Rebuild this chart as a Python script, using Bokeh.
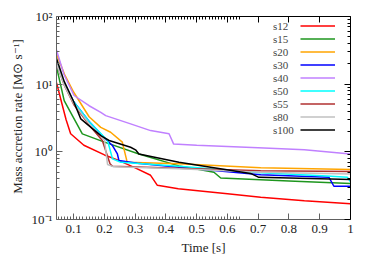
from bokeh.plotting import figure
from bokeh.models import (FixedTicker, LinearAxis, LogAxis, Legend, LegendItem, Range1d,
                          CustomJSTickFormatter)
from bokeh.embed import file_html
from bokeh.resources import INLINE

# ---- data (time [s], mass accretion rate [Msun/s]) ----
s12_t = [0.044, 0.06, 0.075, 0.09, 0.133, 0.2, 0.242, 0.3, 0.35, 0.372, 0.44, 0.6, 0.708, 0.85, 1.0]
s12_m = [10.5, 5.5, 3.0, 1.85, 1.25, 0.9, 0.76, 0.58, 0.45, 0.32, 0.285, 0.24, 0.214, 0.19, 0.171]

s15_t = [0.044, 0.069, 0.096, 0.128, 0.2, 0.312, 0.442, 0.556, 0.578, 0.8, 1.0]
s15_m = [18.0, 5.7, 3.4, 1.84, 1.39, 0.93, 0.62, 0.5, 0.41, 0.37, 0.34]

s20_t = [0.044, 0.07, 0.1, 0.15, 0.188, 0.22, 0.258, 0.274, 0.442, 0.708, 1.0]
s20_m = [28.0, 14.0, 7.6, 3.3, 2.3, 1.95, 1.39, 0.70, 0.665, 0.58, 0.55]

s30_t = [0.044, 0.07, 0.1, 0.15, 0.2, 0.226, 0.242, 0.247, 0.307, 0.442, 0.708, 0.93, 0.946, 1.0]
s30_m = [20.0, 10.0, 5.5, 2.8, 1.6, 1.24, 0.93, 0.745, 0.68, 0.59, 0.46, 0.42, 0.31, 0.31]

s40_t = [0.044, 0.068, 0.101, 0.15, 0.188, 0.204, 0.285, 0.35, 0.41, 0.425, 0.5, 0.7, 0.85, 1.0]
s40_m = [32.0, 14.0, 6.8, 4.8, 3.84, 3.43, 2.59, 2.06, 1.85, 1.3, 1.25, 1.15, 1.07, 0.93]

s50_t = [0.044, 0.07, 0.1, 0.15, 0.21, 0.226, 0.253, 0.442, 0.708, 0.924, 0.99, 1.0]
s50_m = [21.0, 10.0, 5.5, 2.8, 1.47, 0.79, 0.70, 0.61, 0.49, 0.44, 0.42, 0.36]

s55_t = [0.044, 0.07, 0.1, 0.15, 0.193, 0.218, 0.226, 0.442, 0.708, 1.0]
s55_m = [20.0, 9.5, 5.0, 2.5, 1.47, 0.665, 0.61, 0.57, 0.525, 0.51]

s80_t = [0.044, 0.07, 0.1, 0.15, 0.2, 0.21, 0.23, 0.442, 0.708, 1.0]
s80_m = [20.0, 9.5, 5.2, 2.6, 1.5, 0.65, 0.6, 0.56, 0.5, 0.47]

s100_t = [0.044, 0.069, 0.1, 0.123, 0.188, 0.215, 0.285, 0.301, 0.312, 0.442, 0.675, 0.702, 1.0]
s100_m = [24.0, 11.0, 5.5, 3.07, 1.74, 1.47, 1.17, 1.07, 0.93, 0.70, 0.48, 0.42, 0.39]

names = ["s12", "s15", "s20", "s30", "s40", "s50", "s55", "s80", "s100"]
series = [(s12_t, s12_m), (s15_t, s15_m), (s20_t, s20_m), (s30_t, s30_m), (s40_t, s40_m),
          (s50_t, s50_m), (s55_t, s55_m), (s80_t, s80_m), (s100_t, s100_m)]
colors = ["#ff0000", "#1e961e", "#ffa500", "#0000ff", "#c080ff",
          "#00ffff", "#b03030", "#c0c0c0", "#000000"]

x_ticks = [0.1, 0.2, 0.3, 0.4, 0.5, 0.6, 0.7, 0.8, 0.9, 1.0]
x_minor = [round(0.04 + 0.01 * i, 2) for i in range(61)]
y_ticks = [0.1, 1, 10, 100]
y_minor = [m * d for d in (0.1, 1, 10) for m in range(2, 10)]
y_labels = {0.1: "10\u207b\u00b9", 1: "10\u2070", 10: "10\u00b9", 100: "10\u00b2"}

FONT = "Liberation Serif"

p = figure(width=374, height=262, output_backend="svg", toolbar_location=None,
           y_axis_type="log", x_range=Range1d(0.044, 1.0), y_range=Range1d(0.1, 100),
           min_border_left=56, min_border_right=24, min_border_top=16, min_border_bottom=43)
p.outline_line_color = None
p.xgrid.visible = False
p.ygrid.visible = False
p.background_fill_color = "white"
p.border_fill_color = "white"

line_items = []
text_items = []
for name, (t, m), c in zip(names, series, colors):
    r = p.line(t, m, line_color=c, line_width=1.5)
    line_items.append(LegendItem(label=" ", renderers=[r]))
    dummy = p.line(x=[], y=[], line_alpha=0)
    text_items.append(LegendItem(label=name, renderers=[dummy]))

def style(ax, col="#606060"):
    ax.axis_line_color = col
    ax.major_tick_line_color = col
    ax.minor_tick_line_color = col
    ax.major_tick_in = 6
    ax.major_tick_out = 0
    ax.minor_tick_in = 3
    ax.minor_tick_out = 0
    ax.major_label_text_font = FONT
    ax.major_label_text_font_size = "13px"
    ax.major_label_text_color = "#222222"
    ax.axis_label_text_font = FONT
    ax.axis_label_text_font_size = "13px"
    ax.axis_label_text_font_style = "normal"
    ax.axis_label_text_color = "#222222"

xax = p.xaxis[0]
xax.ticker = FixedTicker(ticks=x_ticks, minor_ticks=x_minor)
xax.major_label_overrides = {1: "1"}
xax.axis_label = "Time [s]"
xax.axis_label_standoff = 4
style(xax)

yax = p.yaxis[0]
yax.ticker = FixedTicker(ticks=y_ticks, minor_ticks=y_minor)
yax.major_label_overrides = y_labels
yax.axis_label = "Mass accretion rate [M\u2299 s\u207b\u00b9]"
yax.axis_label_standoff = 4
yax.major_label_standoff = 4
style(yax)

blank = CustomJSTickFormatter(code="return ''")

top = LinearAxis(ticker=FixedTicker(ticks=x_ticks, minor_ticks=x_minor), formatter=blank)
style(top, col="black")
top.major_label_standoff = 0
p.add_layout(top, "above")

right = LogAxis(ticker=FixedTicker(ticks=y_ticks, minor_ticks=y_minor), formatter=blank)
style(right, col="black")
right.major_label_standoff = 0
p.add_layout(right, "right")

def make_legend(items, loc, glyph_w):
    lg = Legend(items=items, location=loc)
    lg.background_fill_alpha = 0
    lg.border_line_color = None
    lg.label_text_font = FONT
    lg.label_text_font_size = "11px"
    lg.glyph_width = glyph_w
    lg.glyph_height = 13
    lg.label_height = 13
    lg.label_standoff = 0
    lg.spacing = 0
    lg.padding = 0
    lg.margin = 0
    return lg

p.add_layout(make_legend(line_items, (244, 83), 35))
p.add_layout(make_legend(text_items, (216, 83), 1))

open("out.html", "w").write(file_html(p, INLINE))
